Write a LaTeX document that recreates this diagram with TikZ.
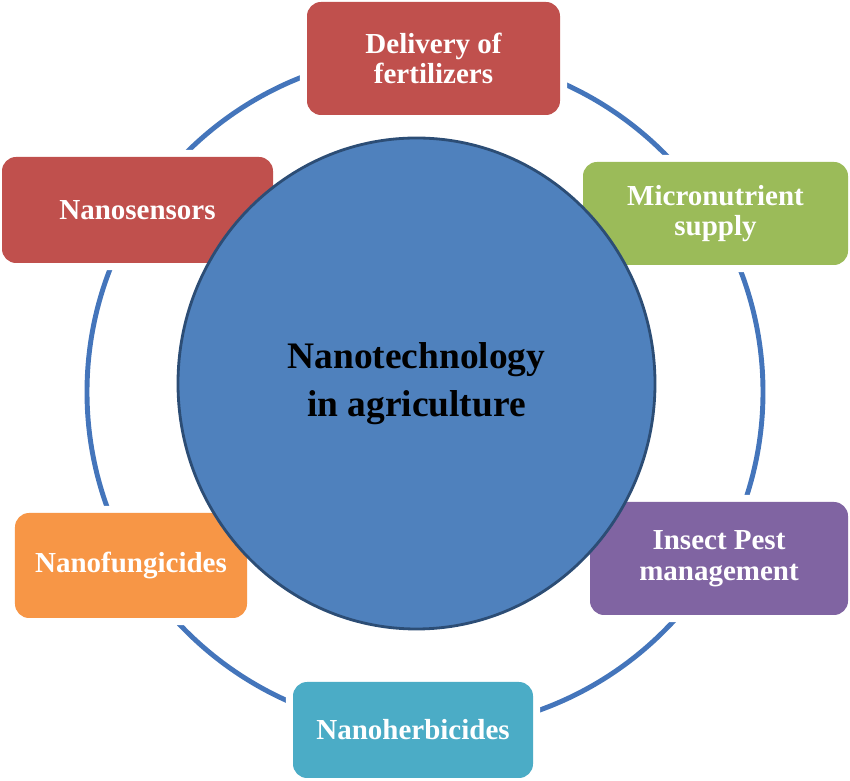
\documentclass[tikz,border=0pt]{standalone}
\usepackage{fontspec}
\setmainfont{Liberation Serif}
\usepackage{tikz}
\usetikzlibrary{positioning}
\definecolor{boxred}{RGB}{192, 80, 77}
\definecolor{boxgreen}{RGB}{155, 187, 89}
\definecolor{boxpurple}{RGB}{128, 100, 162}
\definecolor{boxteal}{RGB}{75, 172, 198}
\definecolor{boxorange}{RGB}{247, 150, 70}
\definecolor{hubblue}{RGB}{79, 129, 189}
\definecolor{hubedge}{RGB}{44, 77, 117}
\definecolor{ringblue}{RGB}{68, 117, 187}
\tikzset{
  item/.style    = {rectangle, rounded corners=8pt, preaction={draw=white, line width=8pt}, align=center, text=white, font=\fontsize{16.5}{17.5}\selectfont\bfseries, inner sep=0pt},
  hubtext/.style = {align=center, font=\fontsize{21.3}{27.5}\selectfont\bfseries},
  ring/.style    = {ringblue, line width=2.8pt},
}
\begin{document}
\begin{tikzpicture}
  \useasboundingbox (0,0) rectangle (17,15.62);

  % ring behind the boxes
  \coordinate (ringc) at (8.5,7.78);
  \draw[ring] (ringc) circle (6.76);

  % boxes round the ring
  \node[item, fill=boxred,    minimum width=5.06cm, minimum height=2.26cm] (fert)  at (8.67,14.45) {Delivery of\\fertilizers};
  \node[item, fill=boxgreen,  minimum width=5.30cm, minimum height=2.06cm] (micro) at (14.31,11.35) {Micronutrient\\supply};
  \node[item, fill=boxpurple, minimum width=5.16cm, minimum height=2.26cm] (pest)  at (14.38,4.45) {Insect Pest\\management};
  \node[item, fill=boxteal,   minimum width=4.80cm, minimum height=1.92cm] (herb)  at (8.26,1.02) {Nanoherbicides};
  \node[item, fill=boxorange, minimum width=4.64cm, minimum height=2.10cm] (fung)  at (2.62,4.31) {Nanofungicides};
  \node[item, fill=boxred,    minimum width=5.42cm, minimum height=2.12cm] (sens)  at (2.75,11.42) {Nanosensors};

  % centre
  \coordinate (hubc) at (8.33,7.95);
  \draw[fill=hubblue, draw=hubedge, line width=1.6pt] (hubc) ellipse (4.77 and 4.91);
  \node[hubtext] (nano) at (hubc) {Nanotechnology\\in agriculture};

\end{tikzpicture}
\end{document}
